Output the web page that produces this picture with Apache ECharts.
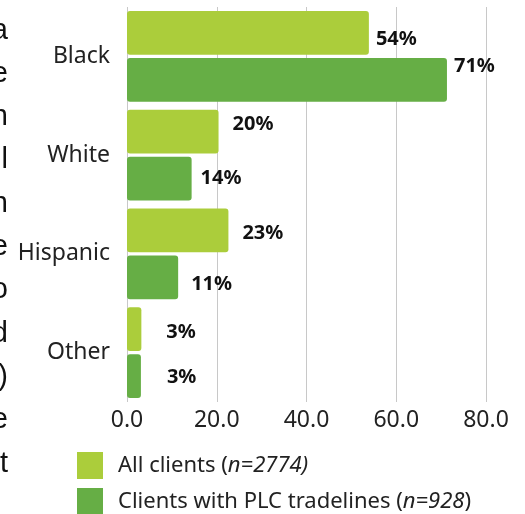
<!DOCTYPE html>
<html>
<head>
<meta charset="utf-8">
<script src="https://cdn.jsdelivr.net/npm/echarts@6/dist/echarts.min.js"></script>
<style>
html,body{margin:0;padding:0;background:#fff;}
#chart{width:525px;height:514px;}
</style>
</head>
<body>
<div id="chart"></div>
<script>
// Data
const categories = ['Black', 'White', 'Hispanic', 'Other'];
const allClients = [53.9, 20.4, 22.6, 3.2];
const plcClients = [71.3, 14.4, 11.4, 3.1];
const seriesNames = ['All clients', 'Clients with PLC tradelines'];
const seriesN = ['n=2774)', 'n=928'];
const xTicks = [0, 20, 40, 60, 80];
// Cropped paragraph text fragments on the left edge
const sideChars = ['a', 'e', 'n', 'l', 'n', 'e', 'o', 'd', ')', 'e', 't'];

// Style-only label nudges [dx, dy]
const allNudge = [[2, 6], [9, -7], [9, 3], [20, 3]];
const plcNudge = [[2, -14], [4, 0], [8, 7], [21, 1]];

const FONT = '"Noto Sans", "Open Sans", sans-serif';

function mkData(vals, nudges) {
  return vals.map((v, i) => ({
    value: v,
    label: { offset: nudges[i] }
  }));
}

const chart = echarts.init(document.getElementById('chart'), null, { renderer: 'canvas' });

const labelCfg = {
  show: true,
  position: 'right',
  distance: 5,
  formatter: p => Math.round(p.value) + '%',
  fontFamily: FONT,
  fontWeight: 'bold',
  fontSize: 20,
  color: '#111'
};

const graphics = sideChars.map((c, i) => ({
  type: 'text',
  right: 517,
  top: 16 + i * 43.3,
  style: {
    text: c,
    fontFamily: '"Liberation Sans", Arial, sans-serif',
    fontSize: 29,
    fill: '#111',
    textAlign: 'right'
  }
}));

function legendFor(i, top) {
  return {
    orient: 'vertical',
    left: 77,
    top: top,
    padding: 0,
    itemWidth: 26,
    itemHeight: 27,
    icon: 'rect',
    data: [seriesNames[i]],
    formatter: name => {
      if (i === 0) return '{r|' + name + ' (}{i|' + seriesN[i] + '}';
      return '{r|' + name + ' (}{i|' + seriesN[i] + '}{r|)}';
    },
    textStyle: {
      padding: [0, 0, 0, 10],
      rich: {
        r: { fontFamily: FONT, fontSize: 22, color: '#222' },
        i: { fontFamily: FONT, fontSize: 22, color: '#222', fontStyle: 'italic' }
      }
    }
  };
}

chart.setOption({
  animation: false,
  backgroundColor: '#fff',
  grid: { left: 127, right: 39, top: 7, bottom: 112, containLabel: false },
  xAxis: {
    type: 'value',
    min: xTicks[0],
    max: xTicks[xTicks.length - 1],
    interval: 20,
    axisLine: { show: false },
    axisTick: { show: false },
    splitLine: { show: true, lineStyle: { color: '#c8c8c8', width: 1 } },
    axisLabel: {
      margin: 7,
      fontFamily: FONT,
      fontSize: 23,
      color: '#222',
      formatter: v => v.toFixed(1)
    }
  },
  yAxis: {
    type: 'category',
    data: categories,
    inverse: true,
    axisLine: { show: false },
    axisTick: { show: false },
    axisLabel: {
      margin: 17,
      fontFamily: FONT,
      fontSize: 23,
      color: '#222'
    }
  },
  legend: [legendFor(0, 452), legendFor(1, 488)],
  graphic: graphics,
  series: [
    {
      name: seriesNames[0],
      type: 'bar',
      data: mkData(allClients, allNudge),
      barGap: '7%',
      barCategoryGap: '8%',
      itemStyle: { color: '#abcd3b', borderRadius: 3 },
      label: labelCfg
    },
    {
      name: seriesNames[1],
      type: 'bar',
      data: mkData(plcClients, plcNudge),
      barGap: '7%',
      barCategoryGap: '8%',
      itemStyle: { color: '#66ae45', borderRadius: 3 },
      label: labelCfg
    }
  ]
});
</script>
</body>
</html>
